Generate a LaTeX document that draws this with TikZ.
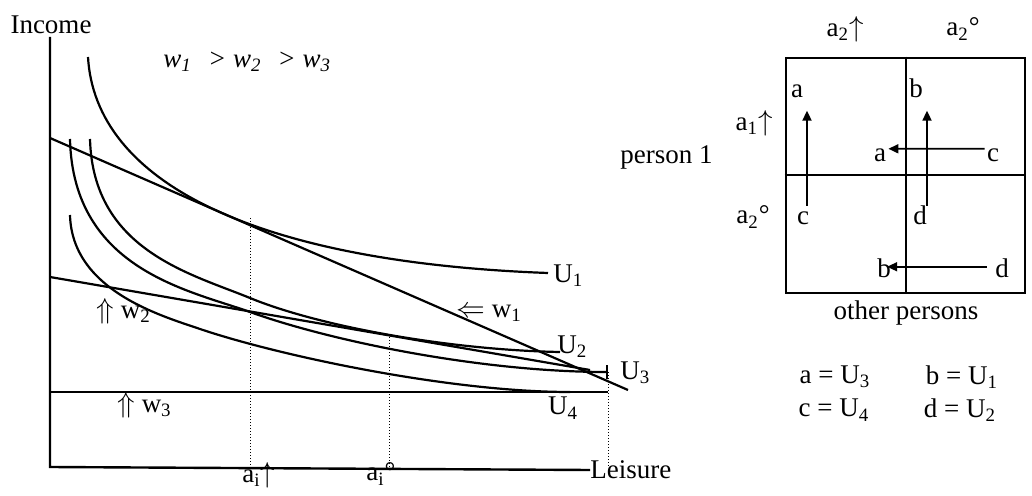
\documentclass[tikz,border=0pt]{standalone}
\usepackage{fontspec}
\setmainfont{Liberation Serif}
\usepackage{tikz}
\usetikzlibrary{arrows.meta,positioning,calc}

\begin{document}
\begin{tikzpicture}[
  x = 0.5pt, y = -0.5pt,
  every node/.style = {font=\fontsize{13.5}{16}\selectfont, inner sep=1pt},
  ax/.style    = {line width=1.2pt},
  curve/.style = {line width=1.1pt},
  wage/.style  = {line width=1.1pt},
  guide/.style = {densely dotted, line width=0.5pt},
  frame/.style = {draw, line width=1.3pt, minimum width=119.5pt,
                  minimum height=117.5pt, inner sep=0pt},
  arr/.style   = {-{Triangle[length=5pt,width=4.5pt]}, line width=0.9pt},
  lab/.style   = {anchor=west, inner sep=0pt},
  cell/.style  = {anchor=base, inner sep=1pt},
]
\useasboundingbox (0,0) rectangle (1032,496);

%% ── AXES ────────────────────────────────────────────────────────────────
\coordinate (orig) at (50,467);
\node (income)  at (51,25)           {Income};
\node[lab] (leisure) at (590,470)    {Leisure};
\draw[ax] (50,37) -- (orig) -- (leisure.west);
\node[lab] (wrank) at (163,62)
  {\textit{w\textsubscript{1}\hspace{0.6em}> w\textsubscript{2}\hspace{0.6em}> w\textsubscript{3}}};

%% ── WAGE LINES ──────────────────────────────────────────────────────────
\draw[wage] (50,138) -- (628,390);
\draw[wage] (50,277) -- (590,370);
\draw[wage] (50,392) -- (608,392);

%% ── INDIFFERENCE CURVES ─────────────────────────────────────────────────
% U1
\draw[curve] (88,57) .. controls (95,180) and (250,262) .. (548,273);
% U2
\draw[curve] (90,139) .. controls (93,250) and (190,273.4) .. (250,298)
                      .. controls (320,326.7) and (450,350) .. (560,352);
% U3
\draw[curve, -{Bar[width=7pt, line width=0.8pt]}]
             (70,139) .. controls (73,270) and (190,290.4) .. (250,312)
                      .. controls (330,340.8) and (480,372) .. (608,372);
% U4
\draw[curve] (70,215) .. controls (72,290) and (160,315.4) .. (200,329)
                      .. controls (280,356) and (450,392) .. (570,392);

%% ── LABELS ON THE CURVES ────────────────────────────────────────────────
\node[lab] (u1) at (553,276) {U\textsubscript{1}};
\node[lab] (u2) at (557,347) {U\textsubscript{2}};
\node[lab] (u3) at (620,373) {U\textsubscript{3}};
\node      (u4) at (563,408) {U\textsubscript{4}};
\node[lab] (w1) at (456,313) {$\Leftarrow$ w\textsubscript{1}};
\node[lab] (w2) at (96,311)  {$\Uparrow$ w\textsubscript{2}};
\node[lab] (w3) at (117,405) {$\Uparrow$ w\textsubscript{3}};

%% ── CHOICE POINTS ───────────────────────────────────────────────────────
\node[lab] (aiup) at (242,475) {a\textsubscript{i}$\uparrow$};
\node[lab] (aio)  at (366,474) {a\textsubscript{i}°};
\draw[guide] (250,218) -- (250,467);
\draw[guide] (389,337) -- (389,467);
\draw[guide] (608,372) -- (608,467);

%% ── GAME MATRIX ─────────────────────────────────────────────────────────
\node[frame] (grid) at (905.5,175.5) {};
\draw[line width=1pt] (grid.north) -- (grid.south);
\draw[line width=1pt] (grid.west) -- (grid.east);

\node (top-up) at (845,29)  {a\textsubscript{2}$\uparrow$};
\node (top-o)  at (963,29)  {a\textsubscript{2}°};
\node (row-up) at (754,123) {a\textsubscript{1}$\uparrow$};
\node (row-o)  at (753,217) {a\textsubscript{2}°};
\node[anchor=east] (person) at (715,157) {person 1};
\node (others) at (906,313) {other persons};

\node[cell] (a1) at (797,98)   {a};
\node[cell] (b1) at (916,98)   {b};
\node[cell] (c1) at (803,225)  {c};
\node[cell] (d1) at (920,225)  {d};
\node[cell] (a2) at (880,162)  {a};
\node[cell] (c2) at (993,162)  {c};
\node[cell] (b3) at (884,278)  {b};
\node[cell] (d3) at (1002,278) {d};

\draw[arr] ($(c1.north)+(4,-4)$) -- ($(a1.south)+(10,10)$);
\draw[arr] ($(d1.north)+(7,2)$)  -- ($(b1.south)+(11,10)$);
\draw[arr] ($(c2.west)+(0,-7)$)  -- ($(a2.east)+(0,-7)$);
\draw[arr] ($(d3.west)+(-6,-2)$) -- ($(b3.east)+(-6,-2)$);

%% ── LEGEND ──────────────────────────────────────────────────────────────
\node (leg-a) at (835,377) {a = U\textsubscript{3}};
\node (leg-b) at (962,377) {b = U\textsubscript{1}};
\node (leg-c) at (834,410) {c = U\textsubscript{4}};
\node (leg-d) at (960,410) {d = U\textsubscript{2}};

\end{tikzpicture}
\end{document}
